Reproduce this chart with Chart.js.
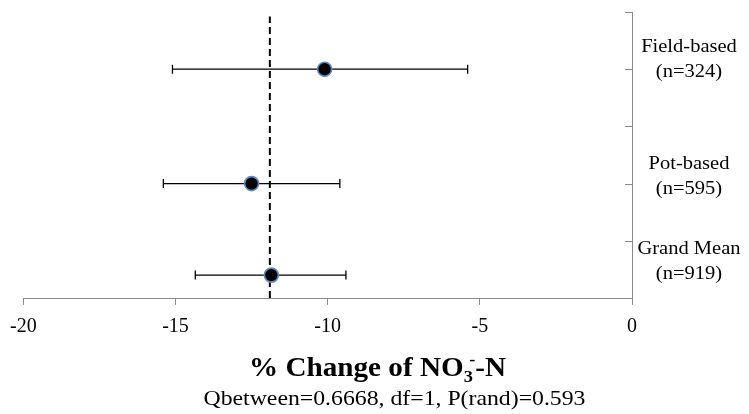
<!DOCTYPE html>
<html>
<head>
<meta charset="utf-8">
<script src="https://cdn.jsdelivr.net/npm/chart.js@4/dist/chart.umd.min.js"></script>
<style>
  html, body { margin: 0; padding: 0; background: #fff; }
  #wrap { width: 749px; height: 414px; position: relative; }
</style>
</head>
<body>
<div id="wrap"><canvas id="c" width="749" height="414"></canvas></div>
<script>
// ---- data ----
const categories = ["Field-based", "Pot-based", "Grand Mean"];
const sampleSizes = ["(n=324)", "(n=595)", "(n=919)"];
const meanEffect = [-10.1, -12.5, -11.85];
const ciLower = [-15.1, -15.4, -14.35];
const ciUpper = [-5.4, -9.6, -9.4];
const rowPosition = [4.0, 2.0, 0.4];
const labelPosition = [4.17, 2.14, 0.65];
const referenceLineX = -11.9;
const referenceLineSpan = [0, 4.92];
const xTicks = [-20, -15, -10, -5, 0];
const yTicks = [0, 1, 2, 3, 4, 5];
const titleText = ["% Change of NO", "3", "-", "-N"];
const subtitleText = "Qbetween=0.6668, df=1, P(rand)=0.593";

const SERIF = "'Liberation Serif', 'Times New Roman', serif";
const AXIS_GRAY = "#8a8a8a";
const STRETCH = 1.08;

const meanPoints = meanEffect.map((m, i) => ({ x: m, y: rowPosition[i] }));
const refLine = referenceLineSpan.map(v => ({ x: referenceLineX, y: v }));

function stretchedText(ctx, text, x, y) {
  ctx.save();
  ctx.translate(x, y);
  ctx.scale(STRETCH, 1);
  ctx.fillText(text, 0, 0);
  ctx.restore();
}

const forestPlugin = {
  id: "forest",
  beforeDatasetsDraw(chart) {
    const { ctx, scales: { x, y } } = chart;
    ctx.save();
    ctx.strokeStyle = "#000";
    ctx.lineWidth = 1.3;
    const cap = 4.5;
    for (let i = 0; i < meanEffect.length; i++) {
      const py = y.getPixelForValue(rowPosition[i]);
      const x0 = x.getPixelForValue(ciLower[i]);
      const x1 = x.getPixelForValue(ciUpper[i]);
      ctx.beginPath();
      ctx.moveTo(x0, py); ctx.lineTo(x1, py);
      ctx.moveTo(x0, py - cap); ctx.lineTo(x0, py + cap);
      ctx.moveTo(x1, py - cap); ctx.lineTo(x1, py + cap);
      ctx.stroke();
    }
    // inward tick marks on the right axis
    ctx.strokeStyle = AXIS_GRAY;
    ctx.lineWidth = 1;
    const rx = chart.chartArea.right;
    yTicks.forEach(v => {
      const py = Math.round(y.getPixelForValue(v)) + 0.5;
      ctx.beginPath();
      ctx.moveTo(rx - 7, py); ctx.lineTo(rx, py);
      ctx.stroke();
    });
    ctx.restore();
  },
  afterDraw(chart) {
    const { ctx, scales: { y }, chartArea } = chart;
    ctx.save();
    ctx.fillStyle = "#000";
    // category labels
    ctx.font = "19px " + SERIF;
    ctx.textAlign = "center";
    ctx.textBaseline = "middle";
    const cx = chartArea.right + 57;
    for (let i = 0; i < categories.length; i++) {
      const cy = y.getPixelForValue(labelPosition[i]);
      stretchedText(ctx, categories[i], cx, cy - 12);
      stretchedText(ctx, sampleSizes[i], cx, cy + 13);
    }
    // title with sub/superscript
    const big = "bold 27px " + SERIF;
    const small = "bold 17px " + SERIF;
    const parts = [
      { t: titleText[0], f: big, dy: 0 },
      { t: titleText[1], f: small, dy: 6 },
      { t: titleText[2], f: small, dy: -11 },
      { t: titleText[3], f: big, dy: 0 }
    ];
    parts.forEach(p => { ctx.font = p.f; p.w = ctx.measureText(p.t).width; });
    const scriptW = Math.max(parts[1].w, parts[2].w + parts[1].w * 0.6);
    const total = parts[0].w + scriptW + parts[3].w;
    const titleCenter = chart.width / 2 + 3;
    const baseY = 376;
    ctx.textAlign = "left";
    ctx.textBaseline = "alphabetic";
    ctx.save();
    ctx.translate(titleCenter, baseY);
    ctx.scale(STRETCH, 1);
    let tx = -total / 2;
    ctx.font = parts[0].f; ctx.fillText(parts[0].t, tx, 0); tx += parts[0].w;
    ctx.font = parts[1].f; ctx.fillText(parts[1].t, tx, parts[1].dy);
    ctx.font = parts[2].f; ctx.fillText(parts[2].t, tx + parts[1].w * 0.6, parts[2].dy);
    tx += scriptW;
    ctx.font = parts[3].f; ctx.fillText(parts[3].t, tx, 0);
    ctx.restore();
    // subtitle
    ctx.font = "22px " + SERIF;
    ctx.textAlign = "center";
    stretchedText(ctx, subtitleText, chart.width / 2 + 20, 405);
    ctx.restore();
  }
};

new Chart(document.getElementById("c"), {
  type: "scatter",
  data: {
    datasets: [
      {
        label: "Mean effect",
        data: meanPoints,
        pointRadius: 7,
        pointHoverRadius: 7,
        pointBackgroundColor: "#000",
        pointBorderColor: "#5a8ccc",
        pointBorderWidth: 1.6,
        showLine: false
      },
      {
        label: "Grand mean",
        data: refLine,
        showLine: true,
        borderColor: "#000",
        borderWidth: 2,
        borderDash: [7, 4],
        pointRadius: 0,
        fill: false
      }
    ]
  },
  options: {
    responsive: false,
    animation: false,
    events: [],
    layout: { padding: { top: 12, right: 117, left: 23, bottom: 65 } },
    plugins: { legend: { display: false }, tooltip: { enabled: false }, title: { display: false } },
    scales: {
      x: {
        type: "linear",
        min: -20, max: 0,
        afterBuildTicks: s => { s.ticks = xTicks.map(v => ({ value: v })); },
        ticks: { color: "#000", font: { family: SERIF, size: 20 }, padding: 10 },
        grid: { drawOnChartArea: false, drawTicks: true, tickLength: 7, color: AXIS_GRAY },
        border: { display: true, color: AXIS_GRAY, width: 1 }
      },
      y: {
        type: "linear",
        position: "right",
        min: 0, max: 5,
        afterBuildTicks: s => { s.ticks = yTicks.map(v => ({ value: v })); },
        ticks: { display: false },
        grid: { drawOnChartArea: false, drawTicks: false, color: AXIS_GRAY },
        border: { display: true, color: AXIS_GRAY, width: 1 }
      }
    }
  },
  plugins: [forestPlugin]
});
</script>
</body>
</html>
